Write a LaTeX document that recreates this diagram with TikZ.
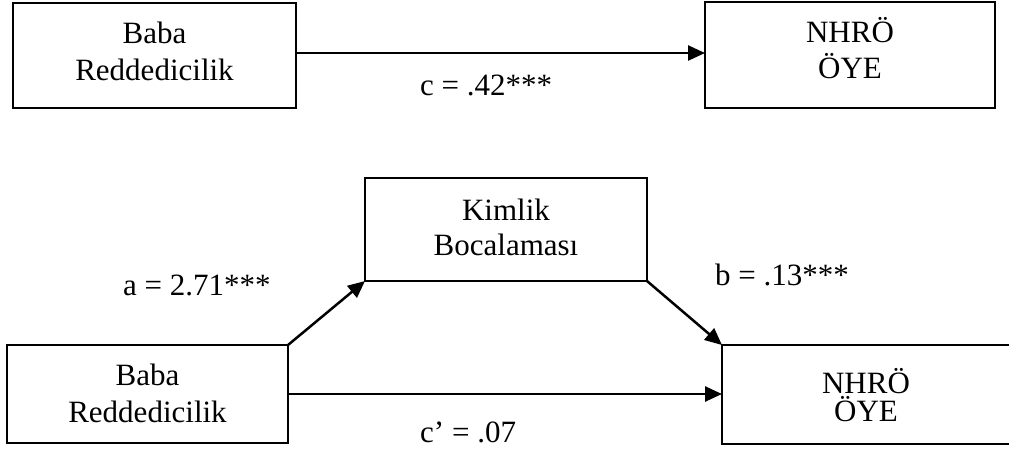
\documentclass[tikz,border=0pt]{standalone}
\usepackage{fontspec}
\setmainfont{Liberation Serif}
\usetikzlibrary{arrows.meta}
\tikzset{
  box/.style={draw=black, line width=2pt, inner sep=0pt, outer sep=0pt, fill=none},
  txt/.style={anchor=base, inner sep=0pt, font=\fontsize{31}{36}\selectfont},
  lbl/.style={anchor=base west, inner sep=0pt, font=\fontsize{31}{36}\selectfont},
  arr/.style={line width=2.5pt, -{Triangle[length=17pt,width=15pt]}, shorten >=0pt},
}
\begin{document}
\begin{tikzpicture}[x=1pt, y=-1pt]
\useasboundingbox (0,0) rectangle (1009,448);
% top row
\node[box, minimum width=283pt, minimum height=105pt] (tl) at (154.5,55.5) {};
\node[box, minimum width=290pt, minimum height=106pt] (tr) at (850,55) {};
\node[txt] (tl1) at (154.5,43) {Baba};
\node[txt] (tl2) at (154.5,80) {Reddedicilik};
\node[txt] (tr1) at (850,42) {NHRÖ};
\node[txt] (tr2) at (850,78) {ÖYE};
\draw[arr] ([yshift=2.5pt]tl.east) -- ([yshift=2.5pt]tl.east -| tr.west);
\node[lbl] (lc) at (420,95) {c = .42***};
% bottom
\node[box, minimum width=282pt, minimum height=103pt] (kb) at (506,229.5) {};
\node[box, minimum width=281pt, minimum height=98pt] (bl) at (147.5,394) {};
\node[box, minimum width=289pt, minimum height=99pt] (br) at (866.5,394.5) {};
\node[txt] (kb1) at (506,220) {Kimlik};
\node[txt] (kb2) at (506,255) {Bocalaması};
\node[txt] (bl1) at (147.5,385) {Baba};
\node[txt] (bl2) at (147.5,422) {Reddedicilik};
\node[txt] (br1) at (866,393) {NHRÖ};
\node[txt] (br2) at (866,421) {ÖYE};
\draw[arr] (bl.north east) -- (kb.south west);
\draw[arr] (kb.south east) -- (br.north west);
\draw[arr] (bl.east) -- (bl.east -| br.west);
\node[lbl] (la) at (123,295) {a = 2.71***};
\node[lbl] (lb) at (715,285) {b = .13***};
\node[lbl] (lcp) at (420,442) {c’ = .07};
\end{tikzpicture}
\end{document}
